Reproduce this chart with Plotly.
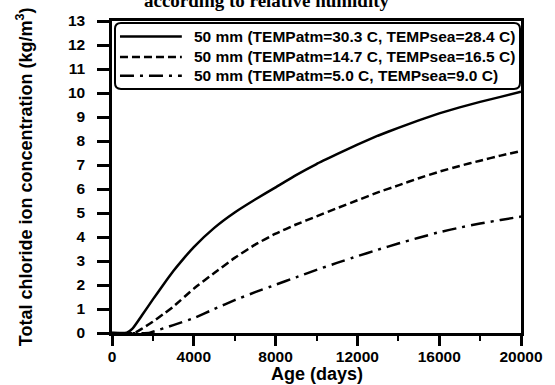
import plotly.graph_objects as go

# ---- data ----
age_solid = [0, 700, 1000, 1500, 2000, 2500, 3000, 3500, 4000, 5000, 6000, 7000, 8000, 9000,
             10000, 11000, 12000, 13000, 14000, 15000, 16000, 17000, 18000, 19000, 20000]
conc_solid = [0, 0, 0.18, 0.78, 1.4, 2.0, 2.58, 3.1, 3.58, 4.38, 5.02, 5.56, 6.07, 6.58,
              7.04, 7.45, 7.85, 8.22, 8.55, 8.86, 9.15, 9.4, 9.63, 9.84, 10.05]

age_dash = [0, 1100, 1500, 2000, 2500, 3000, 4000, 5000, 6000, 7000, 8000, 9000,
            10000, 11000, 12000, 13000, 14000, 15000, 16000, 17000, 18000, 19000, 20000]
conc_dash = [0, 0, 0.2, 0.47, 0.78, 1.1, 1.85, 2.5, 3.13, 3.68, 4.14, 4.52,
             4.86, 5.2, 5.53, 5.86, 6.15, 6.45, 6.72, 6.96, 7.18, 7.39, 7.58]

age_dashdot = [0, 1800, 2000, 3000, 4000, 5000, 6000, 7000, 8000, 9000,
               10000, 11000, 12000, 13000, 14000, 15000, 16000, 17000, 18000, 19000, 20000]
conc_dashdot = [0, 0, 0.05, 0.33, 0.62, 1.0, 1.37, 1.7, 2.01, 2.32,
                2.63, 2.92, 3.2, 3.47, 3.73, 3.97, 4.2, 4.39, 4.56, 4.71, 4.85]

series_names = [
    "50 mm (TEMPatm=30.3 C, TEMPsea=28.4 C)",
    "50 mm (TEMPatm=14.7 C, TEMPsea=16.5 C)",
    "50 mm (TEMPatm=5.0 C, TEMPsea=9.0 C)",
]
x_ticks = [0, 4000, 8000, 12000, 16000, 20000]
y_ticks = list(range(0, 14))

# ---- layout geometry (pixels) ----
W, H = 555, 385
L, R, T, B = 112, 33, 16, 52
PW, PH = W - L - R, H - T - B


def px(x):
    return (x - L) / PW


def py(y):
    return (H - B - y) / PH


dashes = ["solid", "8px,4px", "14px,6px,3px,6px"]
series = [(age_solid, conc_solid), (age_dash, conc_dash), (age_dashdot, conc_dashdot)]

fig = go.Figure()
for (xs, ys), name, d in zip(series, series_names, dashes):
    fig.add_trace(go.Scatter(x=xs, y=ys, mode="lines", name=name, showlegend=False,
                             line=dict(color="black", width=2.5, dash=d, shape="spline",
                                       smoothing=0.4)))

tickfont = dict(family="Liberation Sans, Arial, sans-serif", size=15.5, color="black",
                weight="bold")

fig.update_layout(
    width=W, height=H,
    margin=dict(l=L, r=R, t=T, b=B, pad=0),
    paper_bgcolor="white", plot_bgcolor="white",
    xaxis=dict(range=[0, 20000], tickvals=x_ticks, ticktext=[str(v) for v in x_ticks],
               ticks="outside", ticklen=10, tickwidth=2.5, tickcolor="black",
               minor=dict(dtick=2000, tick0=0, ticks="outside", ticklen=5, tickwidth=2,
                          tickcolor="black"),
               showline=True, linewidth=2.5, linecolor="black", mirror=True,
               showgrid=False, zeroline=False, tickfont=tickfont, ticklabelstandoff=-2),
    yaxis=dict(range=[0, 13], tickvals=y_ticks, ticks="outside", ticklen=12, tickwidth=2.5,
               tickcolor="black", showline=True, linewidth=2.5, linecolor="black",
               mirror=True, showgrid=False, zeroline=False, tickfont=tickfont,
               ticklabelstandoff=9),
    showlegend=False,
)

# axis titles
fig.add_annotation(text="Age (days)", xref="paper", yref="paper", x=0.5, y=py(375),
                   xanchor="center", yanchor="middle", showarrow=False,
                   font=dict(family="Liberation Sans, Arial, sans-serif", size=18,
                             color="black", weight="bold"))
fig.add_annotation(text="Total chloride ion concentration (kg/m<sup>3</sup>)",
                   xref="paper", yref="paper", x=px(24), y=0.5, textangle=-90,
                   xanchor="center", yanchor="middle", showarrow=False,
                   font=dict(family="Liberation Sans Narrow, Arial Narrow, Liberation Sans, sans-serif",
                             size=18, color="black", weight="bold"))

# caption at the very top, clipped by the page edge as in the reference
fig.add_annotation(text="according to relative humidity", xref="paper", yref="paper",
                   x=px(267), y=py(8), xanchor="center", yanchor="bottom",
                   showarrow=False,
                   font=dict(family="Liberation Serif, Times New Roman, serif", size=19,
                             color="black", weight="bold"))

# legend box (rounded)
x0, x1, y0, y1 = 115, 521, 18, 85
r = 6
rx, ry = r / PW, r / PH
X0, X1, Y0, Y1 = px(x0), px(x1), py(y1), py(y0)
path = (f"M {X0+rx},{Y1} L {X1-rx},{Y1} Q {X1},{Y1} {X1},{Y1-ry} "
        f"L {X1},{Y0+ry} Q {X1},{Y0} {X1-rx},{Y0} L {X0+rx},{Y0} "
        f"Q {X0},{Y0} {X0},{Y0+ry} L {X0},{Y1-ry} Q {X0},{Y1} {X0+rx},{Y1} Z")
fig.add_shape(type="path", path=path, xref="paper", yref="paper",
              line=dict(color="black", width=2), fillcolor="white", layer="above")

rows = [31.7, 52.5, 71.7]
for name, d, yy in zip(series_names, dashes, rows):
    fig.add_shape(type="line", xref="paper", yref="paper", x0=px(120), x1=px(182),
                  y0=py(yy), y1=py(yy), line=dict(color="black", width=2.5, dash=d),
                  layer="above")
    fig.add_annotation(text=name, xref="paper", yref="paper", x=px(192), y=py(yy),
                       xanchor="left", yanchor="middle", showarrow=False,
                       font=dict(family="Liberation Sans, Arial, sans-serif", size=15.5,
                                 color="black", weight="bold"))

fig.write_html("out.html")
